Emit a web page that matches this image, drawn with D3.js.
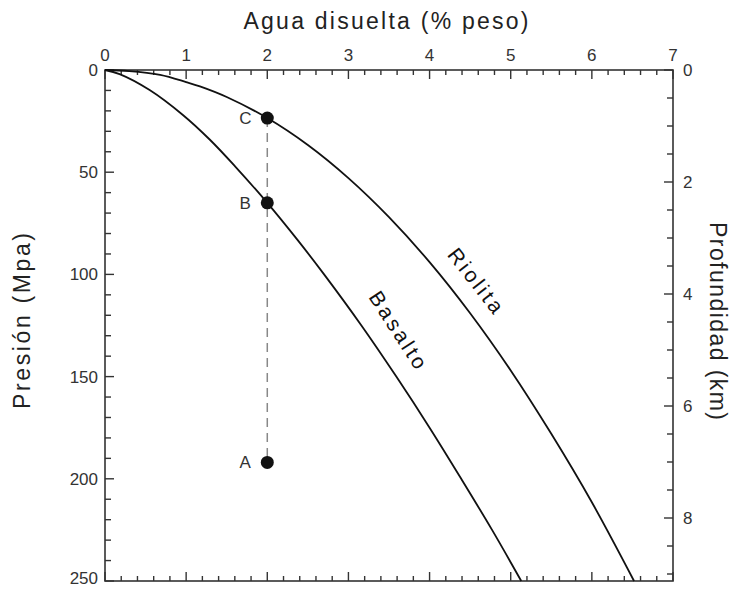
<!DOCTYPE html>
<html>
<head>
<meta charset="utf-8">
<script src="https://cdn.jsdelivr.net/npm/d3@7"></script>
<style>
  body { margin: 0; background: #fff; }
  text { font-family: "Liberation Sans", Arial, sans-serif; }
</style>
</head>
<body>
<div id="chart"></div>
<script>
// agua disuelta (% peso) vs presion (MPa)
var riolitaX = [0, 0.3, 0.68, 1.0, 1.17, 1.5, 2.0, 2.5, 3.0, 3.5, 4.0, 4.5, 5.0, 5.5, 6.0, 6.52];
var riolitaP = [0, 0.5, 2.4, 5.9, 8.0, 13.2, 23.5, 36.7, 52.9, 72, 94, 119, 147, 178, 211.5, 250];
var basaltoX = [0, 0.18, 0.55, 0.96, 1.29, 1.6, 2.0, 2.37, 2.7, 3.16, 3.59, 4.0, 4.39, 4.77, 5.13];
var basaltoP = [0, 2.0, 9.8, 22, 34, 47, 65, 83, 100, 125, 150, 175, 200, 225, 250];
var puntos = [
    {name: "C", x: 2, p: 23.5},
    {name: "B", x: 2, p: 65},
    {name: "A", x: 2, p: 192}
];
var waterTicks = [0, 1, 2, 3, 4, 5, 6, 7];
var pressureTicks = [0, 50, 100, 150, 200, 250];
var depthTicks = [0, 2, 4, 6, 8];

var ctx = {
    w: 732,
    h: 589,
    left: 105,
    right: 673,
    top: 70,
    bottom: 581,
    maxDepth: 9.125
};

var createViz = function() {
    var svgEl = d3.select("#chart").append("svg")
        .attr("width", ctx.w)
        .attr("height", ctx.h);

    ctx.x = d3.scaleLinear().domain([0, 7]).range([ctx.left, ctx.right]);
    ctx.y = d3.scaleLinear().domain([0, 250]).range([ctx.top, ctx.bottom]);
    ctx.depth = d3.scaleLinear().domain([0, ctx.maxDepth]).range([ctx.top, ctx.bottom]);

    addAxes(svgEl);
    addCurves(svgEl);
    addPoints(svgEl);
    addTitles(svgEl);
};

var addTicks = function(g, values, len, orient, scale) {
    var horiz = orient == "top" || orient == "bottom";
    g.append("g")
        .selectAll("line")
        .data(values)
        .enter()
        .append("line")
        .attr("stroke", "#333")
        .attr("stroke-width", 1.4)
        .attr("x1", d => horiz ? scale(d) : (orient == "left" ? ctx.left : ctx.right))
        .attr("x2", d => horiz ? scale(d) : (orient == "left" ? ctx.left + len : ctx.right - len))
        .attr("y1", d => !horiz ? scale(d) : (orient == "top" ? ctx.top : ctx.bottom))
        .attr("y2", d => !horiz ? scale(d) : (orient == "top" ? ctx.top + len : ctx.bottom - len));
};

var addAxes = function(svgEl) {
    var g = svgEl.append("g").attr("id", "axes");

    g.append("rect")
        .attr("x", ctx.left)
        .attr("y", ctx.top)
        .attr("width", ctx.right - ctx.left)
        .attr("height", ctx.bottom - ctx.top)
        .attr("fill", "none")
        .attr("stroke", "#333")
        .attr("stroke-width", 1.6);

    var minorX = d3.range(0, 35).map(d => d / 5).filter(d => d % 1 != 0);
    var minorP = d3.range(0, 250, 10).filter(d => d % 50 != 0);
    var minorD = d3.range(0.5, ctx.maxDepth, 0.5).filter(d => d % 2 != 0);

    addTicks(g, waterTicks, 9, "top", ctx.x);
    addTicks(g, minorX, 5, "top", ctx.x);
    addTicks(g, waterTicks, 9, "bottom", ctx.x);
    addTicks(g, minorX, 5, "bottom", ctx.x);
    addTicks(g, pressureTicks, 9, "left", ctx.y);
    addTicks(g, minorP, 6, "left", ctx.y);
    addTicks(g, depthTicks, 9, "right", ctx.depth);
    addTicks(g, minorD, 6, "right", ctx.depth);

    g.append("g")
        .selectAll("text")
        .data(waterTicks)
        .enter()
        .append("text")
        .attr("x", d => ctx.x(d))
        .attr("y", ctx.top - 9)
        .attr("text-anchor", "middle")
        .attr("font-size", "17px")
        .attr("fill", "#333")
        .text(d => d);

    // the last label sits right on the lower edge, keep it inside
    g.append("g")
        .selectAll("text")
        .data(pressureTicks)
        .enter()
        .append("text")
        .attr("x", ctx.left - 7)
        .attr("y", d => Math.min(ctx.y(d) + 6, ctx.h - 5))
        .attr("text-anchor", "end")
        .attr("font-size", "17px")
        .attr("fill", "#333")
        .text(d => d);

    g.append("g")
        .selectAll("text")
        .data(depthTicks)
        .enter()
        .append("text")
        .attr("x", ctx.right + 10)
        .attr("y", d => ctx.depth(d) + 6)
        .attr("text-anchor", "start")
        .attr("font-size", "17px")
        .attr("fill", "#333")
        .text(d => d);
};

var addCurves = function(svgEl) {
    var line = d3.line()
        .x(d => ctx.x(d[0]))
        .y(d => ctx.y(d[1]))
        .curve(d3.curveCatmullRom.alpha(0.5));

    var rio = riolitaX.map((d, i) => [d, riolitaP[i]]);
    var bas = basaltoX.map((d, i) => [d, basaltoP[i]]);

    [rio, bas].forEach(function(serie) {
        svgEl.append("path")
            .datum(serie)
            .attr("d", line)
            .attr("fill", "none")
            .attr("stroke", "#111")
            .attr("stroke-width", 1.8);
    });

    svgEl.append("text")
        .attr("transform", "translate(" + 470 + "," + 285 + ") rotate(52)")
        .attr("text-anchor", "middle")
        .attr("font-size", "21px")
        .attr("textLength", 76)
        .attr("lengthAdjust", "spacing")
        .attr("fill", "#111")
        .text("Riolita");

    svgEl.append("text")
        .attr("transform", "translate(" + 392 + "," + 334 + ") rotate(57)")
        .attr("text-anchor", "middle")
        .attr("font-size", "21px")
        .attr("textLength", 88)
        .attr("lengthAdjust", "spacing")
        .attr("fill", "#111")
        .text("Basalto");
};

var addPoints = function(svgEl) {
    var top = d3.min(puntos, d => d.p);
    var bottom = d3.max(puntos, d => d.p);

    svgEl.append("line")
        .attr("x1", ctx.x(2))
        .attr("x2", ctx.x(2))
        .attr("y1", ctx.y(top))
        .attr("y2", ctx.y(bottom))
        .attr("stroke", "#888")
        .attr("stroke-width", 1.5)
        .attr("stroke-dasharray", "9,6");

    svgEl.selectAll("circle.punto")
        .data(puntos)
        .enter()
        .append("circle")
        .attr("cx", d => ctx.x(d.x))
        .attr("cy", d => ctx.y(d.p))
        .attr("r", 6.5)
        .attr("fill", "#111");

    svgEl.selectAll("text.punto")
        .data(puntos)
        .enter()
        .append("text")
        .attr("x", d => ctx.x(d.x) - 22)
        .attr("y", d => ctx.y(d.p) + 6)
        .attr("text-anchor", "middle")
        .attr("font-size", "17px")
        .attr("fill", "#333")
        .text(d => d.name);
};

var addTitles = function(svgEl) {
    svgEl.append("text")
        .attr("x", 386)
        .attr("y", 29)
        .attr("text-anchor", "middle")
        .attr("font-size", "23px")
        .attr("textLength", 285)
        .attr("lengthAdjust", "spacing")
        .attr("fill", "#222")
        .text("Agua disuelta (% peso)");

    svgEl.append("text")
        .attr("transform", "translate(" + 30 + "," + 321 + ") rotate(-90)")
        .attr("text-anchor", "middle")
        .attr("font-size", "23px")
        .attr("textLength", 176)
        .attr("lengthAdjust", "spacing")
        .attr("fill", "#222")
        .text("Presión (Mpa)");

    svgEl.append("text")
        .attr("transform", "translate(" + 710 + "," + 321 + ") rotate(90)")
        .attr("text-anchor", "middle")
        .attr("font-size", "23px")
        .attr("textLength", 198)
        .attr("lengthAdjust", "spacing")
        .attr("fill", "#222")
        .text("Profundidad (km)");
};

createViz();
</script>
</body>
</html>
